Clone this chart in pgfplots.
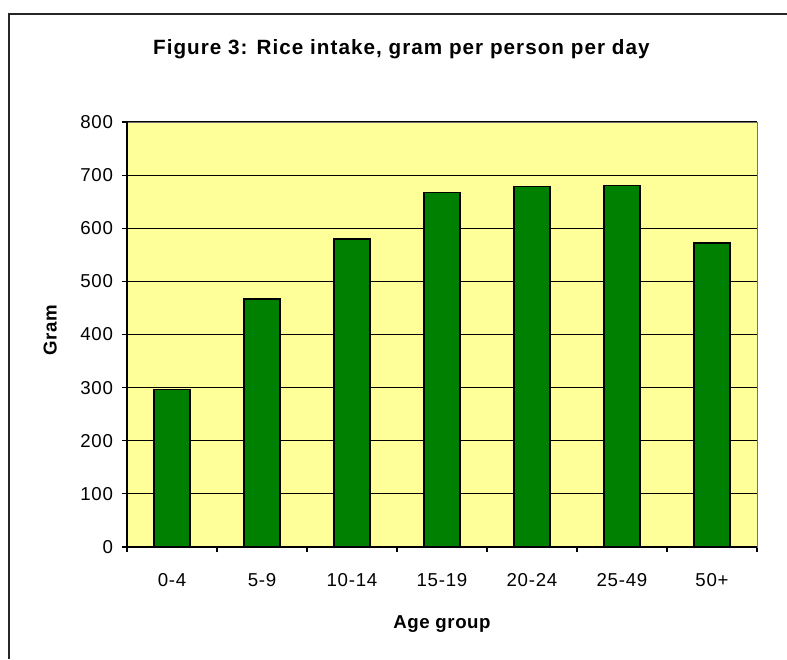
\documentclass[border=0pt]{standalone}
\usepackage{pgfplots}
\pgfplotsset{compat=1.18}
\usepackage{fontspec}
\setmainfont{Liberation Sans}
\definecolor{plotbg}{HTML}{FFFF99}
\definecolor{bargreen}{HTML}{008000}
\begin{document}
\begin{tikzpicture}
\useasboundingbox (0pt,0pt) rectangle (590.25pt,494.25pt);
\draw[line width=1.5pt,black!85] (6.75pt,0pt) -- (6.75pt,483.75pt);
\draw[line width=1.5pt,black!85] (6pt,483.75pt) -- (590.25pt,483.75pt);
\node[font=\fontsize{15.5}{18}\selectfont\bfseries\addfontfeature{LetterSpace=5}] at (301pt,457pt) {Figure 3: Rice intake, gram per person per day};
\begin{axis}[
  at={(95.25pt,84pt)}, anchor=south west,
  scale only axis, width=472.5pt, height=318.75pt,
  axis background/.style={fill=plotbg},
  axis line style={draw=black!55},
  xmin=-0.5, xmax=6.5, ymin=0, ymax=800,
  ytick={0,100,...,800},
  xtick={0,...,6},
  xticklabels={0-4,5-9,10-14,15-19,20-24,25-49,50+},
  minor xtick={-0.5,0.5,...,6.5},
  tick pos=left,
  xtick style={draw=none},
  minor x tick style={draw=black, line width=0.8pt},
  y tick style={draw=black, line width=0.8pt},
  tick align=outside,
  major tick length=4pt, minor tick length=4pt,
  ymajorgrids, grid style={black, line width=0.8pt},
  tick label style={font=\fontsize{14}{16}\selectfont\addfontfeature{LetterSpace=4}},
  /pgf/number format/assume math mode=true,
  xticklabel style={yshift=-12pt},
  yticklabel style={xshift=-3pt},
  xlabel={Age group}, ylabel={Gram},
  label style={font=\fontsize{14}{16}\selectfont\bfseries\addfontfeature{LetterSpace=3}},
  xlabel style={at={(axis description cs:0.5,0)}, anchor=center, yshift=-58pt},
  ylabel style={at={(axis description cs:-0.122,0.51)}, anchor=center},
  ybar, bar width=27pt,
  clip=false,
]
\addplot[fill=bargreen, draw=black, line width=1pt] coordinates {
  (0,297) (1,467) (2,580) (3,667) (4,678) (5,681) (6,572)
};
\end{axis}
\draw[line width=1pt,black] (95.25pt,84pt) -- (95.25pt,402.75pt);
\draw[line width=1pt,black] (95.25pt,84pt) -- (567.75pt,84pt);
\end{tikzpicture}
\end{document}
